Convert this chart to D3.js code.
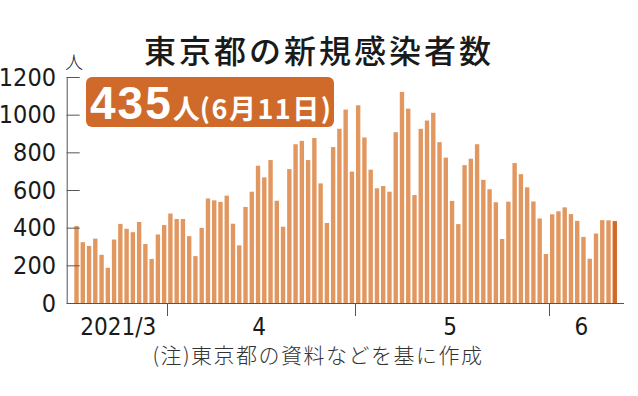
<!DOCTYPE html>
<html>
<meta charset="utf-8">
<head>
  <script src="https://d3js.org/d3.v7.min.js"></script>
  <style>
    body { margin: 0; background: #fff; }
    svg { display: block; }
  </style>
</head>
<body>
<script>

  // daily new cases, 2021/3/17 - 2021/6/11
  var startDay = "2021-03-17";
  var endDay = "2021-06-11";
  var cases = [
    409, 323, 303, 342, 256, 187, 337, 420, 394, 376, 430, 313, 234, 364, 414,
    475, 446, 446, 355, 249, 399, 555, 545, 537, 570, 421, 306, 510, 591, 729,
    667, 759, 543, 405, 711, 843, 861, 759, 876, 635, 425, 828, 925, 1027, 698,
    1050, 879, 708, 609, 621, 591, 907, 1121, 1032, 573, 925, 969, 1010, 854, 772,
    542, 419, 732, 766, 843, 654, 604, 535, 340, 538, 743, 684, 614, 539, 449, 260,
    471, 487, 508, 472, 436, 351, 235, 369, 440, 439, 435
  ];
  var yTicks = [0, 200, 400, 600, 800, 1000, 1200];
  var monthStarts = ["2021-04-01", "2021-05-01", "2021-06-01"];
  var monthLabels = ["2021/3", "4", "5", "6"];
  var titleText = "東京都の新規感染者数";
  var noteText = "(注)東京都の資料などを基に作成";

  var parse = d3.timeParse("%Y-%m-%d");
  var days = d3.timeDay.range(parse(startDay), d3.timeDay.offset(parse(endDay), 1));
  var data = days.map(function(d, i){ return {day: d, value: cases[i]}; });

  var numFont = "'Liberation Sans Narrow', 'DejaVu Sans Condensed', Arial";

  var svg = d3.select("body").append("svg")
      .attr("width", 638)
      .attr("height", 396);

  var x = d3.scaleBand()
      .domain(days.map(function(d){ return +d; }))
      .range([73.4, 617.9])
      .paddingInner(0.3)
      .paddingOuter(0.15);

  var y = d3.scaleLinear().domain([0, 1200]).range([303, 77]);

  var gap = x.step() * 0.3 / 2;
  function edge(d) { return x(+d) - gap; }

  // title
  svg.append("text")
    .attr("x", 319)
    .attr("y", 63)
    .attr("text-anchor", "middle")
    .style("font-family", "'Noto Sans CJK JP'")
    .style("font-weight", "500")
    .style("font-size", "32px")
    .style("letter-spacing", "3px")
    .style("fill", "#1a1a1a")
    .text(titleText);

  // unit
  svg.append("text")
    .attr("x", 74)
    .attr("y", 69)
    .attr("text-anchor", "middle")
    .style("font-family", "'Noto Sans CJK JP'")
    .style("font-weight", "300")
    .style("font-size", "18px")
    .style("fill", "#222")
    .text("人");

  // bars
  svg.append("g").selectAll("rect")
    .data(data)
    .enter()
    .append("rect")
    .attr("x", function(d){ return x(+d.day); })
    .attr("y", function(d){ return y(d.value); })
    .attr("width", x.bandwidth())
    .attr("height", function(d){ return y(0) - y(d.value); })
    .attr("fill", function(d, i){ return i == data.length - 1 ? "#d26a28" : "#e1975f"; });

  // y axis
  var yAxis = d3.axisRight(y).tickValues(yTicks).tickSize(13).tickFormat("");
  var gy = svg.append("g").attr("transform", "translate(66.7,0)").call(yAxis);
  gy.select(".domain").attr("stroke", "#555").attr("d", "M0.5,77V303");
  gy.selectAll(".tick line").attr("stroke", "#555");

  svg.append("g").selectAll("text")
    .data(yTicks)
    .enter()
    .append("text")
    .attr("x", 56)
    .attr("y", function(d){ return y(d) + 8.5; })
    .attr("text-anchor", "end")
    .style("font-family", numFont)
    .style("font-size", "25px")
    .style("fill", "#1a1a1a")
    .text(function(d){ return d; });

  // x axis
  svg.append("line")
    .attr("x1", 66.7).attr("x2", 624)
    .attr("y1", 303.5).attr("y2", 303.5)
    .attr("stroke", "#555");

  svg.append("g").selectAll("line")
    .data(monthStarts)
    .enter()
    .append("line")
    .attr("x1", function(d){ return Math.round(edge(parse(d))) + 0.5; })
    .attr("x2", function(d){ return Math.round(edge(parse(d))) + 0.5; })
    .attr("y1", 303)
    .attr("y2", 316)
    .attr("stroke", "#555");

  var bounds = [parse(startDay)].concat(monthStarts.map(parse));
  var lastEdge = x(+days[days.length - 1]) + x.bandwidth() + gap;
  svg.append("g").selectAll("text")
    .data(monthLabels)
    .enter()
    .append("text")
    .attr("x", function(d, i){
      var a = edge(bounds[i]);
      var b = i < bounds.length - 1 ? edge(bounds[i + 1]) : lastEdge;
      return (a + b) / 2 - 2;
    })
    .attr("y", 335)
    .attr("text-anchor", "middle")
    .style("font-family", numFont)
    .style("font-size", "24px")
    .style("fill", "#1a1a1a")
    .text(function(d){ return d; });

  // badge
  var badge = svg.append("g");
  badge.append("rect")
    .attr("x", 86).attr("y", 77)
    .attr("width", 248).attr("height", 50)
    .attr("rx", 6)
    .attr("fill", "#cf6a2a");
  var bt = badge.append("text")
    .attr("x", 90)
    .attr("y", 119)
    .style("font-family", "'Liberation Sans', Arial")
    .style("font-weight", "700")
    .style("fill", "#fff");
  bt.append("tspan").style("font-size", "46px")
    .style("letter-spacing", "2px").text(cases[cases.length - 1]);
  bt.append("tspan").style("font-size", "27px")
    .style("font-family", "'Noto Sans CJK JP'").text("人");
  bt.append("tspan").style("font-size", "27px")
    .style("letter-spacing", "1.5px")
    .style("font-family", "'Noto Sans CJK JP'").text("(6月11日)");

  // note
  svg.append("text")
    .attr("x", 318)
    .attr("y", 363)
    .attr("text-anchor", "middle")
    .style("font-family", "'Noto Sans CJK JP'")
    .style("font-weight", "300")
    .style("font-size", "21px")
    .style("letter-spacing", "1.5px")
    .style("fill", "#333")
    .text(noteText);

</script>
</body>
</html>
